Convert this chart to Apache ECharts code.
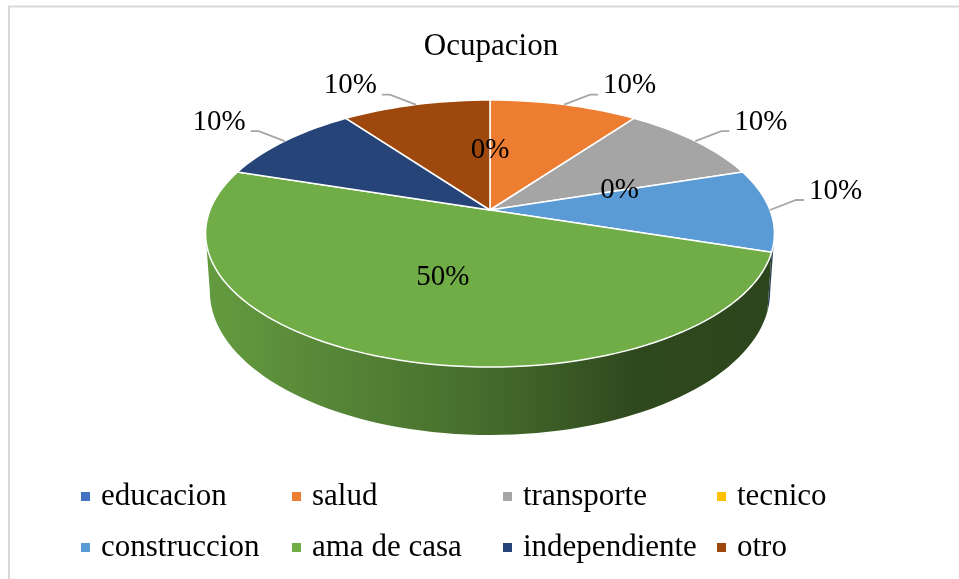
<!DOCTYPE html>
<html>
<head>
<meta charset="utf-8">
<script src="https://cdn.jsdelivr.net/npm/echarts@6/dist/echarts.min.js"></script>
<style>
  html, body { margin: 0; padding: 0; background: #fff; }
  #main { width: 959px; height: 579px; }
</style>
</head>
<body>
<div id="main"></div>
<script>
var categories = ['educacion', 'salud', 'transporte', 'tecnico', 'construccion', 'ama de casa', 'independiente', 'otro'];
var counts = [0, 1, 1, 0, 1, 5, 1, 1];
var palette = ['#4472C4', '#ED7D31', '#A5A5A5', '#FFC000', '#5B9BD5', '#70AD47', '#264478', '#9E480E'];
var chartTitle = 'Ocupacion';

// pie geometry (tilted disc seen in perspective)
var CX = 490, CY = 210, RX = 280, RY = 129.4, PERSP = 0.176, DEPTH = 56, SHRINK = 0.985;
var SIDE = Math.acos(-PERSP) * 180 / Math.PI; // where the rim turns into the silhouette
var FONT = '"Liberation Serif", "Times New Roman", serif';

var total = 0, starts = [];
for (var i = 0; i < counts.length; i++) {
    starts.push(total);
    total += counts[i];
}

// angle in degrees clockwise from 12 o'clock, r = fraction of radius
function project(deg, r, drop) {
    var t = deg * Math.PI / 180;
    var u = r * Math.sin(t), v = -r * Math.cos(t);
    var w = 1 - PERSP * v;
    var x = CX + RX * u / w, y = CY + RY * v / w;
    if (drop) {
        x = CX + (x - CX) * SHRINK;
        y += DEPTH / w;
    }
    return [x, y];
}

function arc(a0, a1, drop) {
    var pts = [];
    var n = Math.max(2, Math.ceil((a1 - a0) / 2));
    for (var j = 0; j <= n; j++) {
        pts.push(project(a0 + (a1 - a0) * j / n, 1, drop));
    }
    return pts;
}

function shade(color, f) {
    var c = echarts.color.parse(color);
    return 'rgb(' + Math.round(c[0] * f) + ',' + Math.round(c[1] * f) + ',' + Math.round(c[2] * f) + ')';
}

function makeRender(idx) {
    return function (params, api) {
        var val = api.value(0);
        var color = palette[idx];
        var a0 = starts[idx] / total * 360;
        var a1 = a0 + val / total * 360;
        var children = [];

        // side wall, only the front part is visible
        var w0 = Math.max(a0, SIDE), w1 = Math.min(a1, 360 - SIDE);
        if (w1 > w0) {
            var top = arc(w0, w1, false);
            var bottom = arc(w0, w1, true).reverse();
            children.push({
                type: 'polygon',
                shape: { points: top.concat(bottom) },
                style: {
                    fill: {
                        type: 'linear', global: true,
                        x: CX - RX - 8, y: 0, x2: CX + RX + 8, y2: 0,
                        colorStops: [
                            { offset: 0, color: shade(color, 0.9) },
                            { offset: 0.5, color: shade(color, 0.62) },
                            { offset: 0.75, color: shade(color, 0.42) },
                            { offset: 1, color: shade(color, 0.4) }
                        ]
                    },
                    stroke: null
                }
            });
        }

        // top face
        if (a1 > a0) {
            children.push({
                type: 'polygon',
                shape: { points: [[CX, CY]].concat(arc(a0, a1, false)) },
                style: { fill: color, stroke: '#ffffff', lineWidth: 1.5, lineJoin: 'round' }
            });
        }

        // data label
        var share = total ? val / total : 0;
        var text = Math.round(share * 100) + '%';
        var mid = (a0 + a1) / 2;
        if (val === 0 || share >= 0.25) {
            var p = project(mid, 0.5, false);
            children.push({
                type: 'text',
                z2: 100,
                style: { text: text, x: p[0], y: p[1], align: 'center', verticalAlign: 'middle', font: '29px ' + FONT, fill: '#000' }
            });
        } else {
            var rim = project(mid, 1, false);
            var s = Math.sin(mid * Math.PI / 180) >= 0 ? 1 : -1;
            var elbow = [rim[0] + s * 26, rim[1] - 10];
            var end = [elbow[0] + s * 8, elbow[1]];
            children.push({
                type: 'polyline',
                z2: 100,
                shape: { points: [rim, elbow, end] },
                style: { stroke: '#A6A6A6', lineWidth: 1.8, fill: null }
            });
            children.push({
                type: 'text',
                z2: 100,
                style: { text: text, x: end[0] + s * 5, y: rim[1] - 19, align: s > 0 ? 'left' : 'right', verticalAlign: 'middle', font: '29px ' + FONT, fill: '#000' }
            });
        }
        return { type: 'group', children: children };
    };
}

var series = categories.map(function (name, idx) {
    return {
        type: 'custom',
        name: name,
        coordinateSystem: 'none',
        itemStyle: { color: palette[idx] },
        renderItem: makeRender(idx),
        data: [[counts[idx]]]
    };
});

var legendLefts = [81, 292, 503, 717];
var legends = legendLefts.map(function (left, col) {
    return {
        orient: 'vertical',
        left: left,
        top: 481,
        padding: 0,
        itemWidth: 9,
        itemHeight: 9,
        itemGap: 20,
        icon: 'rect',
        selectedMode: false,
        data: [categories[col], categories[col + 4]],
        textStyle: { fontFamily: FONT, fontSize: 31, lineHeight: 31, color: '#000', padding: [0, 0, 0, 6] }
    };
});

var myChart = echarts.init(document.getElementById('main'));
var option = {
    animation: false,
    color: palette,
    backgroundColor: '#ffffff',
    graphic: [
        {
            type: 'rect',
            shape: { x: 9, y: 6.5, width: 1000, height: 1000 },
            style: { fill: null, stroke: '#d9d9d9', lineWidth: 2 },
            silent: true
        },
        {
            type: 'text',
            x: 491,
            y: 47,
            style: { text: chartTitle, align: 'center', verticalAlign: 'middle', font: '31px ' + FONT, fill: '#000' }
        }
    ],
    legend: legends,
    series: series
};
myChart.setOption(option);
</script>
</body>
</html>
